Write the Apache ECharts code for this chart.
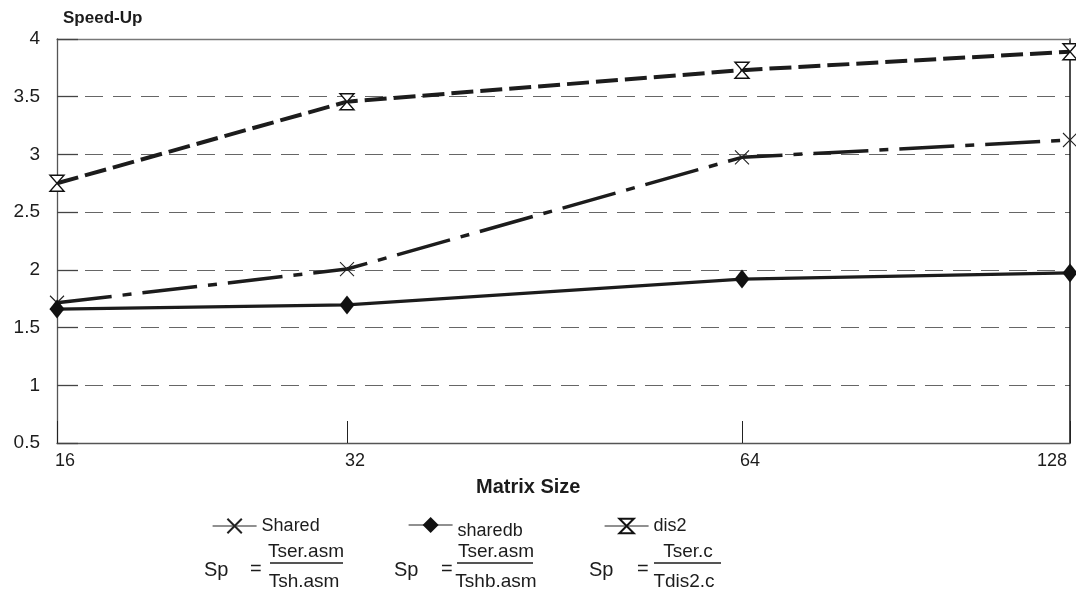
<!DOCTYPE html>
<html>
<head>
<meta charset="utf-8">
<script src="https://cdn.jsdelivr.net/npm/echarts@6/dist/echarts.min.js"></script>
<style>html,body{margin:0;padding:0;background:#fff}#c{width:1076px;height:610px}</style>
</head>
<body>
<div id="c"></div>
<script>
// ---- data ----
const matrixSizes = ['16', '32', '64', '128'];
// horizontal place of each matrix size on the (non-uniform) x axis
const matrixAxisPos = [0, 290, 685, 1013];
const sharedValues  = [1.715, 2.007, 2.975, 3.125];
const sharedbValues = [1.66, 1.696, 1.92, 1.973];
const dis2Values    = [2.75, 3.457, 3.73, 3.89];
const yTicks = { min: 0.5, max: 4, interval: 0.5 };
// --------------------------------------

const FONT = '"Liberation Sans", Arial, sans-serif';
const INK = '#1c1c1c';
const toPts = vals => vals.map((v, i) => [matrixAxisPos[i], v]);
const xMax = matrixAxisPos[matrixAxisPos.length - 1];

const crossPath = 'path://M0,0 L10,10 M10,0 L0,10 M0,0 Z';
const hourglassPath = 'path://M0,0 L10,0 L0,12 L10,12 Z';

const chart = echarts.init(document.getElementById('c'), null, { renderer: 'canvas' });

const option = {
  animation: false,
  backgroundColor: '#fff',
  grid: { left: 57, right: 6, top: 39, bottom: 167, containLabel: false },
  xAxis: [{
    type: 'value', min: 0, max: xMax, position: 'bottom',
    axisLine: { show: true, lineStyle: { color: '#555', width: 1.3 } },
    axisTick: { show: true, inside: true, length: 22, customValues: matrixAxisPos, lineStyle: { color: '#222', width: 1 } },
    axisLabel: {
      customValues: matrixAxisPos, margin: 9, fontSize: 18, color: INK, fontFamily: FONT,
      formatter: v => {
        const i = matrixAxisPos.indexOf(v);
        if (i < 0) return '';
        return (i === matrixAxisPos.length - 1 ? '{e|' : '{n|') + matrixSizes[i] + '}';
      },
      rich: {
        n: { fontSize: 18, fontFamily: FONT, color: INK, padding: [0, 0, 0, 16] },
        e: { fontSize: 18, fontFamily: FONT, color: INK, padding: [0, 36, 0, 0] }
      }
    },
    splitLine: { show: false }
  }, {
    type: 'value', min: 0, max: xMax, position: 'top',
    axisLine: { show: true, onZero: false, lineStyle: { color: '#777', width: 1.3 } },
    axisTick: { show: false }, axisLabel: { show: false }, splitLine: { show: false }
  }],
  yAxis: [{
    type: 'value', min: yTicks.min, max: yTicks.max, interval: yTicks.interval, position: 'left',
    axisLine: { show: true, onZero: false, lineStyle: { color: '#555', width: 1.3 } },
    axisTick: { show: true, inside: true, length: 21, lineStyle: { color: '#444', width: 1.3 } },
    axisLabel: { margin: 17, fontSize: 19, color: INK, fontFamily: FONT, padding: [12, 0, 0, 0] },
    splitLine: { show: true, lineStyle: { color: '#666', width: 1, type: [18, 10] } }
  }, {
    type: 'value', min: yTicks.min, max: yTicks.max, interval: yTicks.interval, position: 'right',
    axisLine: { show: true, onZero: false, lineStyle: { color: '#111', width: 1.5 } },
    axisTick: { show: false }, axisLabel: { show: false }, splitLine: { show: false }
  }],
  legend: [
    { data: ['Shared'], left: 212, top: 517 },
    { data: ['sharedb'], left: 408, top: 517, itemHeight: 20,
      formatter: n => '{low|' + n + '}',
      textStyle: { fontSize: 18, color: INK, fontFamily: FONT, rich: { low: { fontSize: 18, fontFamily: FONT, color: INK, padding: [12, 0, 0, 0] } } } },
    { data: ['dis2'], left: 604, top: 517 }
  ].map(l => Object.assign({
    orient: 'horizontal', itemWidth: 44, itemHeight: 18, itemGap: 10, padding: 0,
    textStyle: { fontSize: 18, color: INK, fontFamily: FONT },
    lineStyle: { type: 'solid', width: 1.2, color: '#222' },
    selectedMode: false
  }, l)),
  series: [
    {
      name: 'Shared', type: 'line', data: toPts(sharedValues),
      symbol: crossPath, symbolSize: [14, 14],
      itemStyle: { color: 'rgba(0,0,0,0)', borderColor: '#222', borderWidth: 1.1 },
      lineStyle: { color: INK, width: 3.5, type: [55, 11, 9, 11] },
      z: 3
    },
    {
      name: 'sharedb', type: 'line', data: toPts(sharedbValues),
      symbol: 'diamond', symbolSize: [15, 19],
      itemStyle: { color: '#111', borderColor: '#111', borderWidth: 0 },
      lineStyle: { color: INK, width: 3.2, type: 'solid' },
      z: 4
    },
    {
      name: 'dis2', type: 'line', data: toPts(dis2Values),
      symbol: hourglassPath, symbolSize: [14, 16],
      itemStyle: { color: '#fff', borderColor: '#111', borderWidth: 1.4 },
      lineStyle: { color: INK, width: 4, type: [22, 7] },
      z: 5
    }
  ],
  graphic: [
    { type: 'text', left: 63, top: 10, style: { text: 'Speed-Up', font: 'bold 17px ' + FONT, fill: INK } },
    { type: 'text', left: 476, top: 477, style: { text: 'Matrix Size', font: 'bold 20px ' + FONT, fill: INK } },
    // formula 1
    { type: 'text', x: 204, y: 570, style: { text: 'Sp', font: '20px ' + FONT, fill: INK, verticalAlign: 'middle' } },
    { type: 'text', x: 250, y: 569, style: { text: '=', font: '20px ' + FONT, fill: INK, verticalAlign: 'middle' } },
    { type: 'text', x: 306, y: 552, style: { text: 'Tser.asm', font: '19px ' + FONT, fill: INK, align: 'center', verticalAlign: 'middle' } },
    { type: 'line', shape: { x1: 270, y1: 563, x2: 343, y2: 563 }, style: { stroke: INK, lineWidth: 1.3 } },
    { type: 'text', x: 304, y: 582, style: { text: 'Tsh.asm', font: '19px ' + FONT, fill: INK, align: 'center', verticalAlign: 'middle' } },
    // formula 2
    { type: 'text', x: 394, y: 570, style: { text: 'Sp', font: '20px ' + FONT, fill: INK, verticalAlign: 'middle' } },
    { type: 'text', x: 441, y: 569, style: { text: '=', font: '20px ' + FONT, fill: INK, verticalAlign: 'middle' } },
    { type: 'text', x: 496, y: 552, style: { text: 'Tser.asm', font: '19px ' + FONT, fill: INK, align: 'center', verticalAlign: 'middle' } },
    { type: 'line', shape: { x1: 457, y1: 563, x2: 533, y2: 563 }, style: { stroke: INK, lineWidth: 1.3 } },
    { type: 'text', x: 496, y: 582, style: { text: 'Tshb.asm', font: '19px ' + FONT, fill: INK, align: 'center', verticalAlign: 'middle' } },
    // formula 3
    { type: 'text', x: 589, y: 570, style: { text: 'Sp', font: '20px ' + FONT, fill: INK, verticalAlign: 'middle' } },
    { type: 'text', x: 637, y: 569, style: { text: '=', font: '20px ' + FONT, fill: INK, verticalAlign: 'middle' } },
    { type: 'text', x: 688, y: 552, style: { text: 'Tser.c', font: '19px ' + FONT, fill: INK, align: 'center', verticalAlign: 'middle' } },
    { type: 'line', shape: { x1: 654, y1: 563, x2: 721, y2: 563 }, style: { stroke: INK, lineWidth: 1.3 } },
    { type: 'text', x: 684, y: 582, style: { text: 'Tdis2.c', font: '19px ' + FONT, fill: INK, align: 'center', verticalAlign: 'middle' } }
  ]
};
chart.setOption(option);
</script>
</body>
</html>
